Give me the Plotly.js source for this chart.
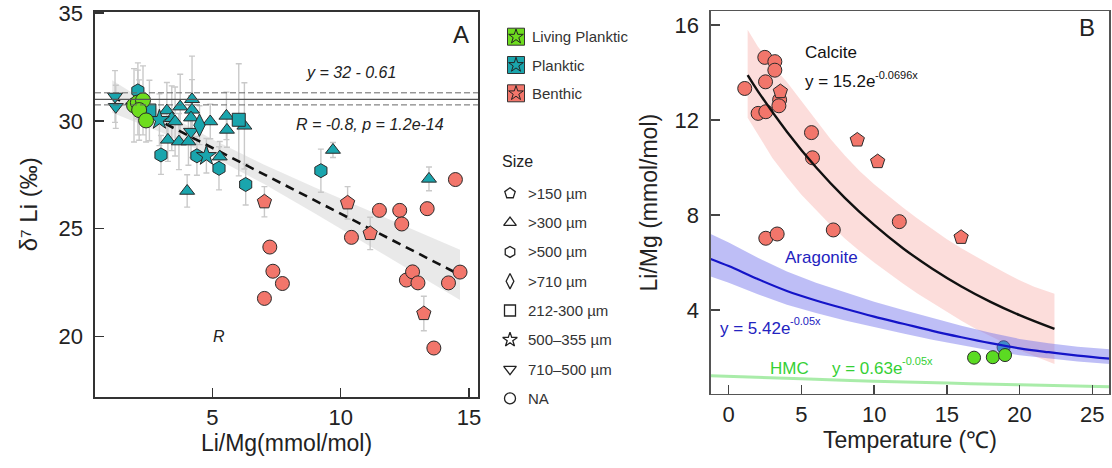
<!DOCTYPE html>
<html><head><meta charset="utf-8">
<script src="https://cdn.plot.ly/plotly-3.0.1.min.js"></script>
<style>html,body{margin:0;padding:0;background:#fff}#chart{width:1112px;height:468px}</style>
</head><body><div id="chart"></div>
<script>
// ---------------- Panel A data (Li/Mg vs d7Li) ----------------
const livingX = [1.95, 2.10, 2.30, 2.15, 2.42];
const livingY = [30.72, 30.85, 30.95, 30.50, 30.02];
const livingErr = [1.7, 1.5, 1.6, 1.4, 1.0];

const pTriX = [3.23, 3.42, 3.55, 3.75, 4.21, 4.21, 4.17, 4.92, 5.55, 5.57, 6.25, 3.27, 3.70, 4.07, 5.29, 4.02, 9.70, 13.44];
const pTriY = [30.48, 30.12, 29.97, 30.66, 31.00, 30.51, 30.15, 29.97, 30.23, 29.58, 29.77, 29.12, 29.04, 29.04, 28.34, 26.75, 28.65, 27.31];
const pTriErr = [1.3, 1.5, 1.6, 1.5, 2.0, 1.4, 1.0, 0.8, 1.1, 0.8, 2.0, 1.0, 1.3, 1.1, 0.7, 0.75, 0.35, 0.55];

const pHexX = [2.10, 3.00, 4.40, 5.26, 6.30, 9.23];
const pHexY = [31.39, 28.42, 28.38, 27.80, 27.05, 27.69];
const pHexErr = [1.3, 0.9, 0.9, 1.0, 0.95, 1.0];

const pSqX = [2.55, 6.03];
const pSqY = [30.48, 30.05];
const pSqErr = [1.4, 2.6];

const pStarX = [2.94, 4.77];
const pStarY = [30.05, 28.38];
const pStarErr = [1.2, 0.8];

const pDownX = [1.21, 1.24, 4.17];
const pDownY = [31.13, 30.65, 29.50];
const pDownErr = [1.2, 1.0, 1.2];

const pDiaX = [4.50];
const pDiaY = [29.80];
const pDiaErr = [0.9];

const bCircX = [7.03, 7.24, 7.36, 7.73, 10.42, 11.51, 12.30, 12.38, 13.37, 14.47, 12.56, 12.80, 13.01, 14.20, 14.65, 13.63];
const bCircY = [21.77, 24.15, 23.03, 22.46, 24.60, 25.85, 25.85, 25.22, 25.93, 27.28, 22.62, 23.00, 22.49, 22.49, 22.99, 19.47];
const bCircErr = [0.25, 0.25, 0.25, 0.25, 0.25, 0.2, 0.3, 0.3, 0.3, 0.25, 0.25, 0.25, 0.25, 0.25, 0.25, 0.25];

const bPentX = [7.03, 10.27, 11.15, 13.24];
const bPentY = [26.25, 26.20, 24.78, 21.07];
const bPentErr = [0.7, 0.75, 0.75, 0.8];

// regression line + confidence band
const regX = [1.1, 14.55];
const regY = [31.13, 22.92];
const bandAX = [1.1, 3, 5, 7, 9, 11, 13, 14.65];
const bandAUp = [31.88, 30.47, 29.15, 27.98, 26.91, 25.89, 24.87, 24.02];
const bandALo = [30.38, 29.47, 28.35, 27.08, 25.71, 24.29, 22.87, 21.70];
const hLineSolid = 31.0;
const hLineDashed = [31.30, 30.74];

// ---------------- Panel B data (Temperature vs Li/Mg) ----------------
const calCircT = [1.10, 2.48, 3.17, 3.17, 2.53, 2.02, 2.55, 3.50, 3.45, 5.69, 5.76, 7.19, 11.73, 2.55, 3.33];
const calCircLM = [13.33, 14.64, 14.46, 14.10, 13.61, 12.28, 12.35, 12.85, 12.60, 11.47, 10.41, 7.37, 7.72, 7.02, 7.20];
const calPentT = [3.55, 8.84, 10.24, 15.98];
const calPentLM = [13.20, 11.16, 10.25, 7.06];
const hmcT = [16.87, 18.16, 19.00];
const hmcLM = [1.99, 2.01, 2.10];
const plankT = [18.90];
const plankLM = [2.43];

const calcLineT = [1.3, 2, 4, 6, 8, 10, 12, 14, 16, 18, 20, 22.4];
const calcLineLM = [13.89, 13.22, 11.51, 10.01, 8.71, 7.58, 6.59, 5.74, 4.99, 4.34, 3.78, 3.20];
const calcBandT = [1.3, 2, 3, 4, 5, 6, 7, 8, 9, 10, 11, 12, 13, 14, 15, 16, 17, 18, 19, 20, 21, 22.4];
const calcBandUp = [15.8, 15.1, 14.3, 13.6, 12.8, 12.0, 11.2, 10.5, 9.85, 9.3, 8.78, 8.3, 7.84, 7.4, 6.98, 6.6, 6.24, 5.9, 5.57, 5.25, 4.98, 4.68];
const calcBandLo = [12.1, 11.4, 10.4, 9.6, 8.85, 8.2, 7.58, 7.0, 6.48, 6.0, 5.54, 5.1, 4.68, 4.3, 3.92, 3.55, 3.2, 2.9, 2.6, 2.3, 2.04, 1.72];

const aragT = [-1.24, 0, 2, 4, 6, 8, 10, 12, 14, 16, 18, 20, 22, 24, 26.2];
const aragLM = [6.15, 5.85, 5.30, 4.80, 4.40, 4.05, 3.72, 3.42, 3.12, 2.85, 2.60, 2.38, 2.22, 2.08, 1.95];
const aragUp = [7.20, 6.84, 6.20, 5.62, 5.15, 4.74, 4.35, 4.00, 3.65, 3.33, 3.04, 2.78, 2.60, 2.45, 2.35];
const aragLo = [5.41, 5.15, 4.66, 4.22, 3.87, 3.56, 3.27, 3.01, 2.75, 2.51, 2.29, 2.09, 1.95, 1.83, 1.72];

const hmcLineT = [-1.24, 5, 10, 15, 20, 26.2];
const hmcLineLM = [1.23, 1.10, 1.00, 0.92, 0.85, 0.77];

// ---------------- Legend labels ----------------
const colorLabels = ['Living Planktic', 'Planktic', 'Benthic'];
const sizeLabels = ['>150 µm', '>300 µm', '>500 µm', '>710 µm', '212-300 µm', '500–355 µm', '710–500 µm', 'NA'];

// ---------------- styles ----------------
const FONT = 'Liberation Sans, Arial, sans-serif';
const C_LIV = '#6EDD1E', C_PLK = '#1AA5AD', C_BEN = '#F2766B';
const sizeSymbols = ['pentagon-open', 'triangle-up-open', 'hexagon-open', 'diamond-tall-open', 'square-open', 'star-open', 'triangle-down-open', 'circle-open'];
const colorFills = [C_LIV, C_PLK, C_BEN];

const traces = [];
// Panel A background elements
traces.push({x: bandAX.concat(bandAX.slice().reverse()), y: bandAUp.concat(bandALo.slice().reverse()),
  xaxis: 'x', yaxis: 'y', mode: 'lines', fill: 'toself', fillcolor: 'rgba(215,215,215,0.55)',
  line: {width: 0}, hoverinfo: 'skip', showlegend: false});

// error bars first (behind all markers)
const groupsA = [
  [livingX, livingY, livingErr, 'circle', C_LIV, 15],
  [pTriX, pTriY, pTriErr, 'triangle-up', C_PLK, 13],
  [pHexX, pHexY, pHexErr, 'hexagon', C_PLK, 14],
  [pSqX, pSqY, pSqErr, 'square', C_PLK, 13],
  [pStarX, pStarY, pStarErr, 'star', C_PLK, 15],
  [pDownX, pDownY, pDownErr, 'triangle-down', C_PLK, 13],
  [pDiaX, pDiaY, pDiaErr, 'diamond-tall', C_PLK, 16],
  [bCircX, bCircY, bCircErr, 'circle', C_BEN, 14],
  [bPentX, bPentY, bPentErr, 'pentagon', C_BEN, 15]
];
groupsA.forEach(g => {
  traces.push({x: g[0], y: g[1], xaxis: 'x', yaxis: 'y', mode: 'markers', showlegend: false, hoverinfo: 'skip',
    marker: {size: 1, color: 'rgba(0,0,0,0)'},
    error_y: {type: 'data', array: g[2], visible: true, color: '#C9C9C9', thickness: 1.4, width: 3}});
});
// regression dashed line
traces.push({x: regX, y: regY, xaxis: 'x', yaxis: 'y', mode: 'lines', showlegend: false,
  line: {color: '#111', width: 2.6, dash: '9px,6px'}});
// order: planktic, benthic, living on top
[1,2,3,4,5,6,7,8,0].forEach(i => {
  const g = groupsA[i];
  traces.push({x: g[0], y: g[1], xaxis: 'x', yaxis: 'y', mode: 'markers', showlegend: false,
    marker: {symbol: g[3], size: g[5], color: g[4], line: {color: '#2a2a2a', width: 1}}});
});

// Panel B
traces.push({x: calcBandT.concat(calcBandT.slice().reverse()), y: calcBandUp.concat(calcBandLo.slice().reverse()),
  xaxis: 'x2', yaxis: 'y2', mode: 'lines', fill: 'toself', fillcolor: 'rgba(248,180,175,0.45)',
  line: {width: 0}, hoverinfo: 'skip', showlegend: false});
traces.push({x: plankT, y: plankLM, xaxis: 'x2', yaxis: 'y2', mode: 'markers', showlegend: false,
  marker: {symbol: 'circle', size: 13, color: C_PLK, line: {color: '#2a2a2a', width: 1}}});
traces.push({x: aragT.concat(aragT.slice().reverse()), y: aragUp.concat(aragLo.slice().reverse()),
  xaxis: 'x2', yaxis: 'y2', mode: 'lines', fill: 'toself', fillcolor: 'rgba(110,110,235,0.45)',
  line: {width: 0}, hoverinfo: 'skip', showlegend: false});
traces.push({x: calCircT, y: calCircLM, xaxis: 'x2', yaxis: 'y2', mode: 'markers', showlegend: false,
  marker: {symbol: 'circle', size: 14, color: C_BEN, line: {color: '#2a2a2a', width: 1}}});
traces.push({x: calPentT, y: calPentLM, xaxis: 'x2', yaxis: 'y2', mode: 'markers', showlegend: false,
  marker: {symbol: 'pentagon', size: 15, color: C_BEN, line: {color: '#2a2a2a', width: 1}}});
traces.push({x: calcLineT, y: calcLineLM, xaxis: 'x2', yaxis: 'y2', mode: 'lines', showlegend: false,
  line: {color: '#111', width: 2.4, shape: 'spline'}});
traces.push({x: aragT, y: aragLM, xaxis: 'x2', yaxis: 'y2', mode: 'lines', showlegend: false,
  line: {color: '#1414C8', width: 2.2, shape: 'spline'}});
traces.push({x: hmcLineT, y: hmcLineLM, xaxis: 'x2', yaxis: 'y2', mode: 'lines', showlegend: false,
  line: {color: 'rgba(140,230,140,0.75)', width: 3, shape: 'spline'}});
traces.push({x: hmcT, y: hmcLM, xaxis: 'x2', yaxis: 'y2', mode: 'markers', showlegend: false,
  marker: {symbol: 'circle', size: 13, color: '#5BDB22', line: {color: '#2a2a2a', width: 1}}});

// Legend (custom, on a hidden pixel-scaled axis)
const colRowY = colorLabels.map((_, i) => 36.7 + i * 28.3);
const sizeRowY = sizeLabels.map((_, i) => 193.3 + i * 29.3);
traces.push({x: colorLabels.map(() => 516), y: colRowY, xaxis: 'x3', yaxis: 'y3', mode: 'markers', showlegend: false,
  marker: {symbol: 'square', size: 17, color: colorFills, line: {color: '#333', width: 1}}});
traces.push({x: colorLabels.map(() => 516), y: colRowY, xaxis: 'x3', yaxis: 'y3', mode: 'markers', showlegend: false,
  marker: {symbol: 'star-open', size: 11, color: '#222', line: {color: '#222', width: 1}}});
traces.push({x: sizeLabels.map(() => 510), y: sizeRowY, xaxis: 'x3', yaxis: 'y3', mode: 'markers', showlegend: false,
  marker: {symbol: sizeSymbols, size: 11, color: '#222', line: {color: '#222', width: 1.3}}});

const annotations = [];
colorLabels.forEach((t, i) => annotations.push({x: 530, y: colRowY[i], xref: 'x3', yref: 'y3', text: t, showarrow: false,
  xanchor: 'left', yanchor: 'middle', font: {family: FONT, size: 15, color: '#333'}}));
sizeLabels.forEach((t, i) => annotations.push({x: 526, y: sizeRowY[i], xref: 'x3', yref: 'y3', text: t, showarrow: false,
  xanchor: 'left', yanchor: 'middle', font: {family: FONT, size: 15, color: '#333'}}));
annotations.push({x: 500, y: 161, xref: 'x3', yref: 'y3', text: 'Size', showarrow: false, xanchor: 'left', yanchor: 'middle',
  font: {family: FONT, size: 16, color: '#222'}});

// Panel A texts
const txtA = {family: FONT, size: 16, color: '#222', style: 'italic'};
annotations.push({x: 14.69, y: 33.99, xref: 'x', yref: 'y', text: 'A', showarrow: false, font: {family: FONT, size: 24, color: '#222'}});
annotations.push({x: 10.39, y: 32.23, xref: 'x', yref: 'y', text: 'y = 32 - 0.61', showarrow: false, font: txtA});
annotations.push({x: 11.13, y: 29.81, xref: 'x', yref: 'y', text: 'R = -0.8, p = 1.2e-14', showarrow: false, font: txtA});
annotations.push({x: 5.27, y: 20.02, xref: 'x', yref: 'y', text: 'R', showarrow: false, font: txtA});
// Panel B texts (equation bases + raised exponents as separate texts)
const C_CAL = '#111', C_ARA = '#2323C0', C_HMC = '#35D035';
function eq(x, y, base, exp, color) {
  annotations.push({x: x, y: y, xref: 'x2', yref: 'y2', text: base, showarrow: false, xanchor: 'left',
    font: {family: FONT, size: 17, color: color}});
  annotations.push({x: x, y: y, xref: 'x2', yref: 'y2', text: exp, showarrow: false, xanchor: 'left',
    xshift: 70.5, yshift: 7, font: {family: FONT, size: 11, color: color}});
}
annotations.push({x: 24.66, y: 15.89, xref: 'x2', yref: 'y2', text: 'B', showarrow: false, font: {family: FONT, size: 24, color: '#222'}});
annotations.push({x: 5.1, y: 14.83, xref: 'x2', yref: 'y2', text: 'Calcite', showarrow: false, xanchor: 'left', font: {family: FONT, size: 17, color: C_CAL}});
eq(5.1, 13.61, 'y = 15.2e', '-0.0696x', C_CAL);
annotations.push({x: 3.72, y: 6.19, xref: 'x2', yref: 'y2', text: 'Aragonite', showarrow: false, xanchor: 'left', font: {family: FONT, size: 17, color: C_ARA}});
eq(-0.76, 3.24, 'y = 5.42e', '-0.05x', C_ARA);
annotations.push({x: 2.69, y: 1.55, xref: 'x2', yref: 'y2', text: 'HMC', showarrow: false, xanchor: 'left', font: {family: FONT, size: 17, color: C_HMC}});
eq(6.96, 1.55, 'y = 0.63e', '-0.05x', C_HMC);

const shapes = [
  {type: 'line', xref: 'x domain', yref: 'y', x0: 0, x1: 1, y0: hLineSolid, y1: hLineSolid, line: {color: '#555', width: 1.2}},
  ...hLineDashed.map(v => ({type: 'line', xref: 'x domain', yref: 'y', x0: 0, x1: 1, y0: v, y1: v, line: {color: '#666', width: 1, dash: '6px,3px'}}))
];

const tickFont = {family: FONT, size: 22, color: '#222'};
const titleFont = {family: FONT, size: 23, color: '#222'};
const layout = {
  width: 1112, height: 468, margin: {l: 0, r: 0, t: 0, b: 0},
  paper_bgcolor: '#fff', plot_bgcolor: '#fff', showlegend: false,
  xaxis: {domain: [0.08543, 0.42986], range: [0.43, 15.35], tickvals: [5, 10, 15], ticks: 'inside', ticklen: 9, tickwidth: 1.5, tickcolor: '#333',
    showline: true, mirror: true, linecolor: '#333', linewidth: 1.6, showgrid: false, zeroline: false, tickfont: tickFont,
    title: {text: 'Li/Mg(mmol/mol)', font: titleFont, standoff: 6}, anchor: 'y'},
  yaxis: {domain: [0.15171, 0.975], range: [17.2, 35.06], tickvals: [20, 25, 30, 35], ticks: 'inside', ticklen: 9, tickwidth: 1.5, tickcolor: '#333',
    showline: true, mirror: true, linecolor: '#333', linewidth: 1.6, showgrid: false, zeroline: false, tickfont: tickFont,
    ticklabelstandoff: 6,
    title: {text: 'δ⁷ Li (‰)', font: {family: FONT, size: 24, color: '#222'}, standoff: 14}, anchor: 'x'},
  xaxis2: {domain: [0.63912, 0.99757], range: [-1.24, 26.17], tickvals: [0, 5, 10, 15, 20, 25], ticks: 'inside', ticklen: 9, tickwidth: 1.5, tickcolor: '#444',
    showline: true, mirror: true, linecolor: '#555', linewidth: 1.4, showgrid: false, zeroline: false, tickfont: tickFont,
    title: {text: 'Temperature (℃)', font: titleFont, standoff: 6}, anchor: 'y2'},
  yaxis2: {domain: [0.15812, 0.97585], range: [0.46, 16.58], tickvals: [4, 8, 12, 16], ticks: 'inside', ticklen: 9, tickwidth: 1.5, tickcolor: '#444',
    showline: true, mirror: true, linecolor: '#555', linewidth: 1.4, showgrid: false, zeroline: false, tickfont: tickFont,
    ticklabelstandoff: 6,
    title: {text: 'Li/Mg (mmol/mol)', font: titleFont, standoff: 10}, anchor: 'x2'},
  xaxis3: {domain: [480/1112, 660/1112], range: [480, 660], visible: false, fixedrange: true, anchor: 'y3'},
  yaxis3: {domain: [1 - 420/468, 1 - 10/468], range: [420, 10], visible: false, fixedrange: true, anchor: 'x3'},
  annotations: annotations, shapes: shapes
};
Plotly.newPlot('chart', traces, layout, {displayModeBar: false, staticPlot: true});
</script></body></html>
